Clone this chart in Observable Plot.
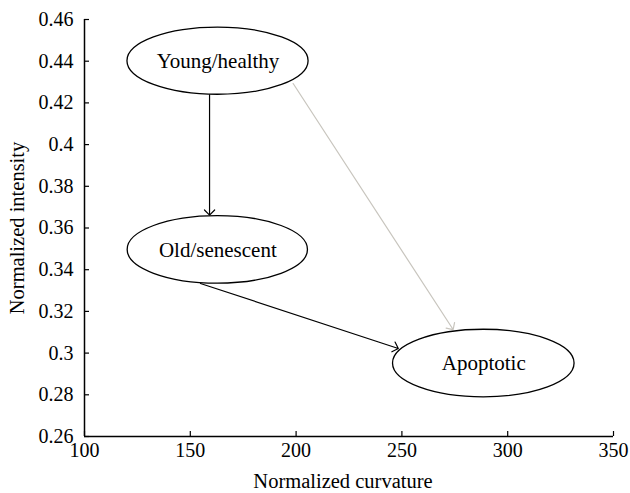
<!DOCTYPE html>
<html><head><meta charset="utf-8">
<script src="https://cdn.jsdelivr.net/npm/d3@7"></script>
<script src="https://cdn.jsdelivr.net/npm/@observablehq/plot@0.6"></script>
<style>
body{margin:0;background:#fff}
svg, svg text { font-family: "Liberation Serif", "DejaVu Serif", serif !important; }
</style>
</head><body><div id="chart"></div>
<script>
// States (ellipse centres and half-axes, in data units)
const states = ["Young/healthy", "Old/senescent", "Apoptotic"];
const stateX = [163.1, 163.0, 288.7];
const stateY = [0.440, 0.3495, 0.295];
const stateRx = [42.8, 42.6, 42.9];
const stateRy = [0.0161, 0.0162, 0.0162];

// Transitions (arrows)
const arrowX1 = [159.1, 154.8, 198.6];
const arrowY1 = [0.4239, 0.3334, 0.4293];
const arrowX2 = [159.1, 248.3, 274.2];
const arrowY2 = [0.3662, 0.3022, 0.3113];
const arrowColor = ["#000000", "#000000", "#c8c5be"];

// Ticks
const xTicks = [100, 150, 200, 250, 300, 350];
const yTicks = [0.26, 0.28, 0.30, 0.32, 0.34, 0.36, 0.38, 0.40, 0.42, 0.44, 0.46];

const nodes = states.map((s, i) => ({name: s, x: stateX[i], y: stateY[i], rx: stateRx[i], ry: stateRy[i]}));
const arrows = arrowX1.map((d, i) => ({x1: arrowX1[i], y1: arrowY1[i], x2: arrowX2[i], y2: arrowY2[i], c: arrowColor[i]}));

function ellipseMark(index, scales) {
  const g = d3.create("svg:g");
  for (const n of nodes) {
    const cx = scales.x(n.x), cy = scales.y(n.y);
    g.append("ellipse")
      .attr("cx", cx).attr("cy", cy)
      .attr("rx", Math.abs(scales.x(n.x + n.rx) - cx))
      .attr("ry", Math.abs(scales.y(n.y + n.ry) - cy))
      .attr("fill", "none").attr("stroke", "#000").attr("stroke-width", 1.3);
  }
  return g.node();
}

const fontFamily = "Liberation Serif";

const chart = Plot.plot({
  width: 630,
  height: 493,
  marginLeft: 84,
  marginRight: 17,
  marginTop: 19,
  marginBottom: 57,
  style: {fontFamily, fontSize: "18px", background: "#fff", color: "#000", overflow: "visible"},
  x: {domain: [100, 350], axis: null},
  y: {domain: [0.26, 0.46], axis: null},
  marks: [
    Plot.axisX({ticks: xTicks, tickFormat: d => String(d), tickSize: -5, tickPadding: 11, label: null, fontSize: 20, fontFamily, stroke: "#000", strokeWidth: 1.2}),
    Plot.axisY({ticks: yTicks, tickFormat: d => String(+d.toFixed(2)), tickSize: -5, tickPadding: 16, label: null, fontSize: 20, fontFamily, stroke: "#000", strokeWidth: 1.2}),
    Plot.ruleX([100], {stroke: "#000", strokeWidth: 1.5}),
    Plot.ruleY([0.26], {stroke: "#000", strokeWidth: 1.5}),
    Plot.arrow(arrows, {x1: "x1", y1: "y1", x2: "x2", y2: "y2", stroke: d => d.c, strokeWidth: 1.2, headAngle: 90, headLength: 9, bend: 0}),
    ellipseMark,
    Plot.text(nodes, {x: "x", y: "y", text: "name", fontSize: 21, fontFamily, fill: "#000"}),
    Plot.text(["Normalized curvature"], {frameAnchor: "bottom", dy: 51, dx: -6, fontSize: 20.5, fontFamily, fill: "#000", textAnchor: "middle"}),
    Plot.text(["Normalized intensity"], {frameAnchor: "left", dx: -67, rotate: -90, fontSize: 20.5, fontFamily, fill: "#000", textAnchor: "middle"})
  ]
});
document.getElementById("chart").appendChild(chart);
</script>
</body></html>
